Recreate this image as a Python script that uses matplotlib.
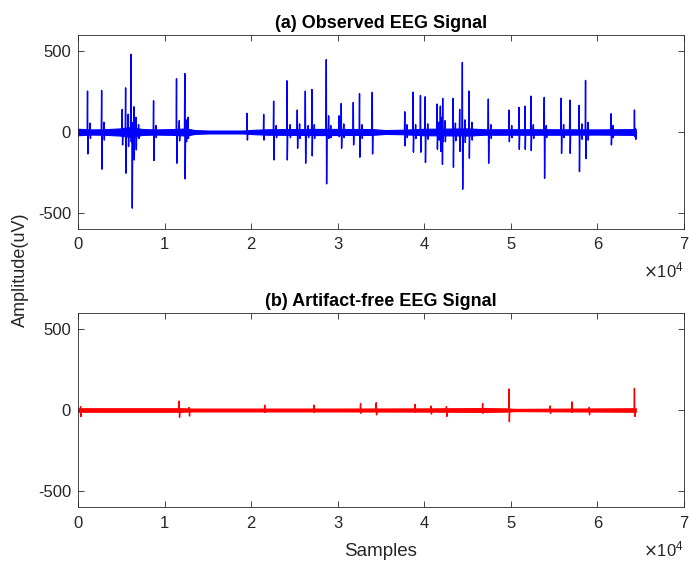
import matplotlib
matplotlib.use("Agg")
import matplotlib.pyplot as plt
import numpy as np

plt.rcParams['font.family'] = ['Liberation Sans', 'DejaVu Sans']
plt.rcParams['axes.unicode_minus'] = False

# spikes in the observed signal: sample index, peak (uV), trough (uV)
obs_pos = [1100, 2730, 5110, 5500, 6110, 6230, 6460, 8730, 11380, 12340, 12720,
           19530, 21450, 22600, 24140, 25330, 26260, 27020, 28680, 28950, 30140,
           30410, 31800, 32520, 33990, 37750, 38710, 39560, 40100, 41480, 41860,
           42060, 42130, 43330, 44090, 44400, 45170, 47400, 49790, 50940, 51630,
           52320, 53860, 55820, 56820, 57890, 58630, 61580, 64280]
obs_peak = [253, 257, 140, 273, 481, 60, 156, 193, 329, 362, 91,
            115, 109, 191, 317, 136, 253, 263, 448, 100, 100,
            177, 183, 237, 245, 125, 247, 226, 218, 173, 160,
            90, 208, 208, 140, 430, 253, 204, 136, 152, 160,
            222, 214, 210, 197, 165, 319, 113, 136]
obs_trough = [-136, -230, -80, -255, -60, -471, -173, -177, -193, -290, -40,
              -50, -50, -173, -173, -101, -193, -148, -321, -40, -30,
              -101, -80, -156, -136, -86, -125, -125, -189, -107, -120,
              -200, -60, -218, -120, -354, -162, -193, -60, -107, -107,
              -115, -286, -132, -132, -245, -165, -80, -29]

# small after-spike ripples of the observed signal
ripple_pos = [1400, 3000, 5800, 6700, 7000, 9000, 11700, 12500, 22900, 24500,
              25600, 26600, 27300, 29200, 30700, 32800, 38000, 39000, 40400, 41700,
              42400, 43600, 44700, 45500, 47700, 50100, 52600, 54100, 56100, 58200,
              58900, 61800, 64400]
ripple_peak = [55, 60, 110, 90, 45, 40, 70, 75, 40, 45, 50, 40, 45, 40, 50, 45, 45, 45, 50, 60,
               70, 55, 75, 60, 45, 40, 45, 40, 45, 50, 60, 40, 20]
ripple_trough = [-40, -50, -90, -110, -40, -35, -55, -60, -35, -35, -40, -35, -40, -35, -35, -40,
                 -35, -40, -45, -50, -60, -55, -65, -50, -40, -35, -40, -35, -35, -45, -50, -35, -45]

# background activity band of the observed signal (half-width in uV)
obs_env_x = [0, 1500, 3000, 4800, 6000, 7500, 9000, 11000, 12500, 13500, 15000,
             19000, 20500, 22000, 28000, 34000, 35500, 37500, 40000, 45000, 47000,
             50000, 55000, 60000, 64430]
obs_env_a = [20, 16, 17, 22, 30, 18, 16, 18, 22, 12, 9,
             9, 14, 17, 19, 18, 12, 14, 20, 22, 17,
             17, 17, 16, 18]

# residual peaks in the artifact-free signal
clean_pos = [300, 11690, 12840, 21570, 27250, 32640, 34450, 38940, 40790, 42560,
             46740, 49790, 54550, 57050, 59050, 64280]
clean_peak = [20, 55, 15, 30, 30, 40, 45, 35, 25, 20, 40, 130, 25, 50, 15, 134]
clean_trough = [-40, -45, -37, -15, -15, -20, -30, -15, -25, -40, -20, -72, -20, -15, -30, -40]

clean_env_x = [0, 12000, 13000, 30000, 40000, 47000, 49500, 50500, 64430]
clean_env_a = [11, 11, 9, 9, 10, 12, 10, 7, 11]

SIGNAL_END = 64430


def build_trace(pos, peak, trough, end):
    order = np.argsort(pos)
    xs, ys = [0], [0]
    for i in order:
        p, hi, lo = pos[i], peak[i], trough[i]
        xs += [p - 40, p, p + 40, p + 90]
        ys += [0, hi, lo, 0]
    xs.append(end)
    ys.append(0)
    return np.array(xs), np.array(ys)


def style_axes(ax, title):
    ax.set_xlim(0, 70000)
    ax.set_ylim(-600, 600)
    ax.set_yticks([-500, 0, 500])
    ax.set_xticks(np.arange(0, 70001, 10000))
    ax.set_xticklabels([str(i) for i in range(8)])
    ax.tick_params(direction='in', top=True, right=True, length=4,
                   labelsize=12, colors='#262626', width=0.6)
    ax.tick_params(axis='x', pad=6)
    ax.tick_params(axis='y', pad=5)
    for s in ax.spines.values():
        s.set_color('#262626')
        s.set_linewidth(0.6)
    ax.set_title(title, fontsize=13, fontweight='bold', pad=5)
    ax.text(1.0, -0.215, r'$\times\mathregular{10^{4}}$', transform=ax.transAxes,
            ha='right', va='center', fontsize=12, color='#262626')


fig = plt.figure(figsize=(6.89, 5.63), dpi=100)
ax1 = fig.add_axes([0.1132, 0.5933, 0.8795, 0.3445])
ax2 = fig.add_axes([0.1132, 0.0989, 0.8795, 0.3457])

x1, y1 = build_trace(obs_pos + ripple_pos, obs_peak + ripple_peak,
                     obs_trough + ripple_trough, SIGNAL_END)
env1 = np.array(obs_env_a)
ax1.fill_between(obs_env_x, -env1, env1, color='#0000ff', linewidth=0.8,
                 edgecolor='#0000ff')
ax1.plot(x1, y1, color='#0000ff', linewidth=1.0)
style_axes(ax1, '(a) Observed EEG Signal')

x2, y2 = build_trace(clean_pos, clean_peak, clean_trough, SIGNAL_END)
env2 = np.array(clean_env_a)
ax2.fill_between(clean_env_x, -env2, env2, color='#ff0000', linewidth=0.8,
                 edgecolor='#ff0000')
ax2.plot(x2, y2, color='#ff0000', linewidth=1.0)
style_axes(ax2, '(b) Artifact-free EEG Signal')
ax2.set_xlabel('Samples', fontsize=13.5, color='#262626', labelpad=9)

fig.text(0.029, 1 - 270 / 563, 'Amplitude(uV)', rotation=90, fontsize=13,
         color='#262626', ha='center', va='center')

fig.savefig('out.png', dpi=100)
